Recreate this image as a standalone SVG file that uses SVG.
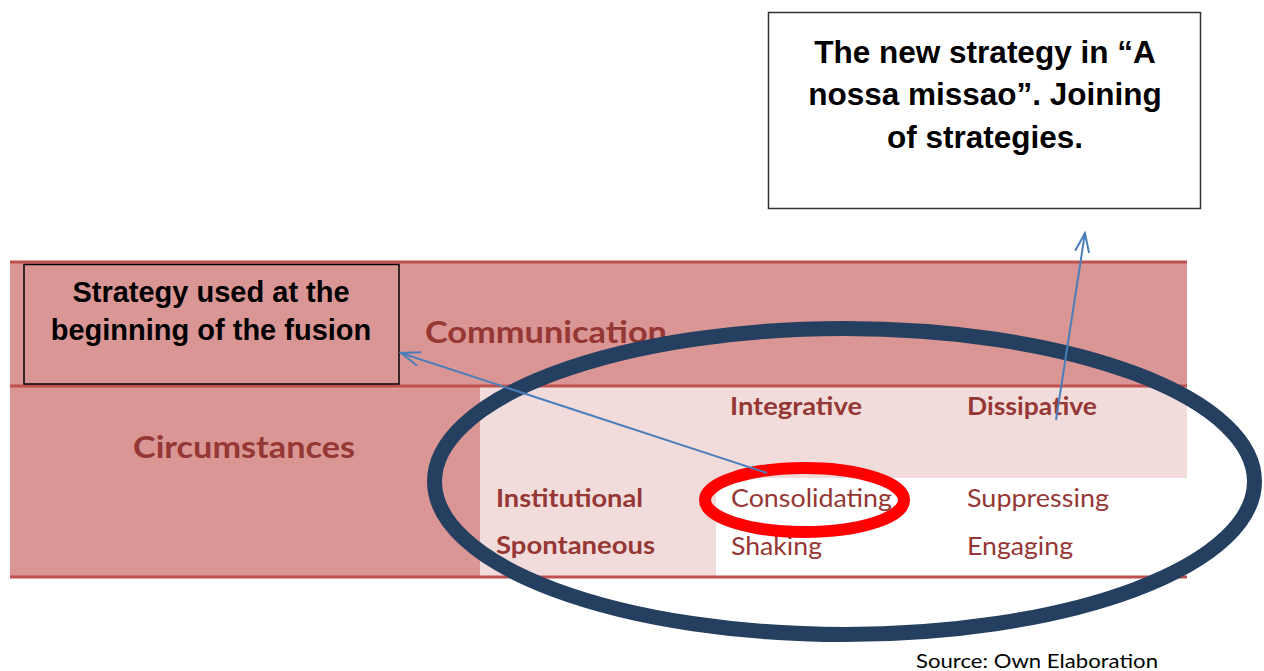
<svg xmlns="http://www.w3.org/2000/svg" width="1264" height="671" viewBox="0 0 1264 671">
<style>
.dark{fill:#d99694}
.light{fill:#f2dcdb}
.rule{stroke:#c0504d;stroke-width:3}
.head{font-family:Lato,"Open Sans",sans-serif;font-weight:bold;fill:#953735}
.cell{font-family:Lato,"Open Sans",sans-serif;fill:#953735;font-size:25px}
.box{font-family:"Liberation Sans",Arial,sans-serif;font-weight:bold;fill:#000;text-anchor:middle}
.conn{fill:none;stroke:#4a7ebb;stroke-width:2}
</style>
<defs>
<marker id="open" viewBox="-22 -10 24 20" refX="0" refY="0" markerWidth="24" markerHeight="20" markerUnits="userSpaceOnUse" orient="auto">
<path d="M-19,-7 L0,0 L-19,7" fill="none" stroke="#4a7ebb" stroke-width="2"/>
</marker>
</defs>
<rect width="1264" height="671" fill="#fff"/>
<g id="table">
<rect class="dark" x="10" y="262" width="1177" height="124"/>
<rect class="dark" x="10" y="386" width="470" height="191"/>
<rect class="light" x="480" y="386" width="707" height="92"/>
<rect class="light" x="480" y="478" width="236" height="99"/>
<line class="rule" x1="10" y1="262" x2="1187" y2="262"/>
<line class="rule" x1="10" y1="386" x2="1187" y2="386"/>
<line class="rule" x1="10" y1="577" x2="1187" y2="577"/>
<text class="head" x="425" y="343" font-size="31" textLength="242" lengthAdjust="spacingAndGlyphs">Communication</text>
<text class="head" x="133" y="458" font-size="31" textLength="222" lengthAdjust="spacingAndGlyphs">Circumstances</text>
<text class="head" x="730" y="415" font-size="25" textLength="132" lengthAdjust="spacingAndGlyphs">Integrative</text>
<text class="head" x="967" y="415" font-size="25" textLength="130" lengthAdjust="spacingAndGlyphs">Dissipative</text>
<text class="head" x="496" y="507" font-size="25" textLength="147" lengthAdjust="spacingAndGlyphs">Institutional</text>
<text class="head" x="496" y="554" font-size="25" textLength="159" lengthAdjust="spacingAndGlyphs">Spontaneous</text>
<text class="cell" x="731" y="507" textLength="161" lengthAdjust="spacingAndGlyphs">Consolidating</text>
<text class="cell" x="731" y="555" textLength="91" lengthAdjust="spacingAndGlyphs">Shaking</text>
<text class="cell" x="967" y="507" textLength="142" lengthAdjust="spacingAndGlyphs">Suppressing</text>
<text class="cell" x="967" y="555" textLength="106" lengthAdjust="spacingAndGlyphs">Engaging</text>
</g>
<g id="strategy-box">
<rect x="24" y="264.5" width="375" height="119.5" fill="none" stroke="#000" stroke-width="1.5"/>
<text class="box" x="211" y="302" font-size="29">Strategy used at the</text>
<text class="box" x="211" y="340" font-size="29">beginning of the fusion</text>
</g>
<g id="new-strategy-box">
<rect x="768.5" y="12.5" width="432" height="196" fill="#fff" stroke="#333" stroke-width="1.5"/>
<text class="box" x="985" y="63" font-size="31.5">The new strategy in “A</text>
<text class="box" x="985" y="105" font-size="31.5">nossa missao”. Joining</text>
<text class="box" x="985" y="148" font-size="31.5">of strategies.</text>
</g>
<g id="highlights">
<ellipse id="big-ellipse" cx="844.5" cy="481.5" rx="410" ry="153" fill="none" stroke="#243f60" stroke-width="15"/>
<ellipse id="red-ellipse" cx="804.5" cy="500" rx="99.5" ry="32" fill="none" stroke="#ff0000" stroke-width="12"/>
</g>
<g id="connectors">
<path class="conn" d="M767,473 L401,353" marker-end="url(#open)"/>
<path class="conn" d="M1056,420 L1085,233" marker-end="url(#open)"/>
</g>
<text x="916" y="668" font-family="Lato,'Open Sans',sans-serif" font-size="19" fill="#000" textLength="242" lengthAdjust="spacingAndGlyphs">Source: Own Elaboration</text>
</svg>
